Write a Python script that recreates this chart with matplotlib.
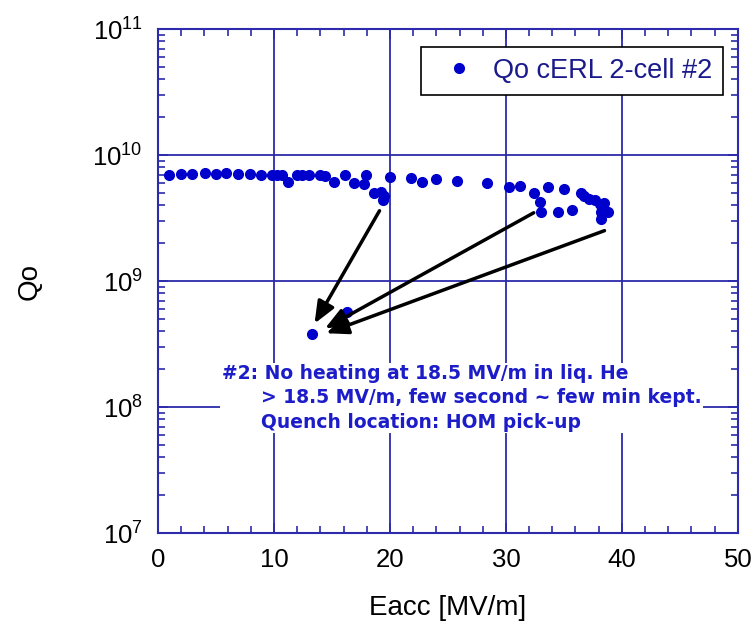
import numpy as np
import matplotlib
matplotlib.use("Agg")
import matplotlib.pyplot as plt
from matplotlib.ticker import LogLocator, MultipleLocator

# data
eacc = [0.97, 1.95, 2.96, 4.05, 5.0, 5.9, 6.9, 7.9, 8.9, 9.8, 10.3, 10.7, 11.2, 11.95,
        12.4, 13.0, 14.0, 14.4, 15.2, 16.1, 16.9, 17.9, 17.8, 18.6, 19.2, 19.5, 19.4,
        20.0, 21.8, 22.8, 24.0, 25.8, 28.4, 30.3, 31.2, 32.4, 32.9, 33.0, 33.6, 34.5,
        35.0, 35.7, 36.5, 36.7, 37.2, 37.7, 38.1, 38.5, 38.2, 38.8, 38.2,
        13.3, 16.3]
qo = [7.0e9, 7.1e9, 7.1e9, 7.2e9, 7.1e9, 7.2e9, 7.1e9, 7.1e9, 7.0e9, 7.0e9, 7.0e9, 7.0e9,
      6.15e9, 7.0e9, 7.0e9, 6.9e9, 7.0e9, 6.8e9, 6.15e9, 7.0e9, 5.96e9, 6.9e9, 5.9e9,
      5.0e9, 5.1e9, 4.7e9, 4.4e9, 6.73e9, 6.53e9, 6.07e9, 6.41e9, 6.25e9, 5.96e9,
      5.6e9, 5.67e9, 5.02e9, 4.26e9, 3.55e9, 5.55e9, 3.55e9, 5.34e9, 3.66e9, 5.02e9,
      4.73e9, 4.45e9, 4.36e9, 4.06e9, 4.19e9, 3.55e9, 3.55e9, 3.09e9,
      3.8e8, 5.7e8]

# quench arrows: (start E, start Q, tip E, tip Q)
arrows = [(19.1, 3.61e9, 13.5, 4.6e8),
          (32.4, 3.48e9, 14.4, 4.2e8),
          (38.5, 2.51e9, 14.5, 3.85e8)]

note = ("#2: No heating at 18.5 MV/m in liq. He\n"
        "      > 18.5 MV/m, few second ~ few min kept.\n"
        "      Quench location: HOM pick-up")

plt.rcParams['font.family'] = ['Liberation Sans', 'DejaVu Sans']
plt.rcParams['mathtext.default'] = 'regular'

frame = '#2b2bab'
dots = '#0000cc'

fig = plt.figure(figsize=(7.56, 6.21), dpi=100)
ax = fig.add_axes([0.209, 0.1417, 0.767, 0.8116])

ax.plot(eacc, qo, 'o', color=dots, markersize=7, label='Qo cERL 2-cell #2', zorder=3)

for x0, y0, x1, y1 in arrows:
    ax.annotate('', xy=(x1, y1), xytext=(x0, y0),
                arrowprops=dict(arrowstyle='-|>,head_length=0.6,head_width=0.25',
                                color='black', lw=2.5, mutation_scale=22,
                                shrinkA=0, shrinkB=0), zorder=4)

ax.set_yscale('log')
ax.set_xlim(0, 50)
ax.set_ylim(1e7, 1e11)
ax.xaxis.set_major_locator(MultipleLocator(10))
ax.xaxis.set_minor_locator(MultipleLocator(2))
ax.yaxis.set_major_locator(LogLocator(base=10, numticks=10))
ax.yaxis.set_minor_locator(LogLocator(base=10, subs=np.arange(2, 10), numticks=20))

ax.grid(True, which='major', color=frame, lw=1.3)
ax.tick_params(which='both', direction='in', top=True, right=True, color=frame,
               labelsize=18.5, width=1.2, pad=11)
ax.tick_params(which='major', length=7)
ax.tick_params(which='minor', length=5)
for s in ax.spines.values():
    s.set_color(frame)
    s.set_linewidth(1.5)

ax.set_xlabel('Eacc [MV/m]', fontsize=20, labelpad=16)
ax.set_ylabel('Qo', fontsize=20, labelpad=36)

ax.text(0.11, 0.335, note, transform=ax.transAxes, ha='left', va='top',
        fontsize=13.5, fontweight='bold', color='#1c1cc8', linespacing=1.35,
        family='DejaVu Sans',
        bbox=dict(facecolor='white', edgecolor='none', pad=1), zorder=5)

leg = ax.legend(loc='upper right', bbox_to_anchor=(0.974, 0.964), borderaxespad=0,
                fontsize=19.5, fancybox=False, edgecolor='black', framealpha=1,
                handletextpad=0.25, borderpad=0.4, labelcolor='#1a1a8c')
leg.get_frame().set_linewidth(1.2)

fig.savefig('out.png', dpi=100)
